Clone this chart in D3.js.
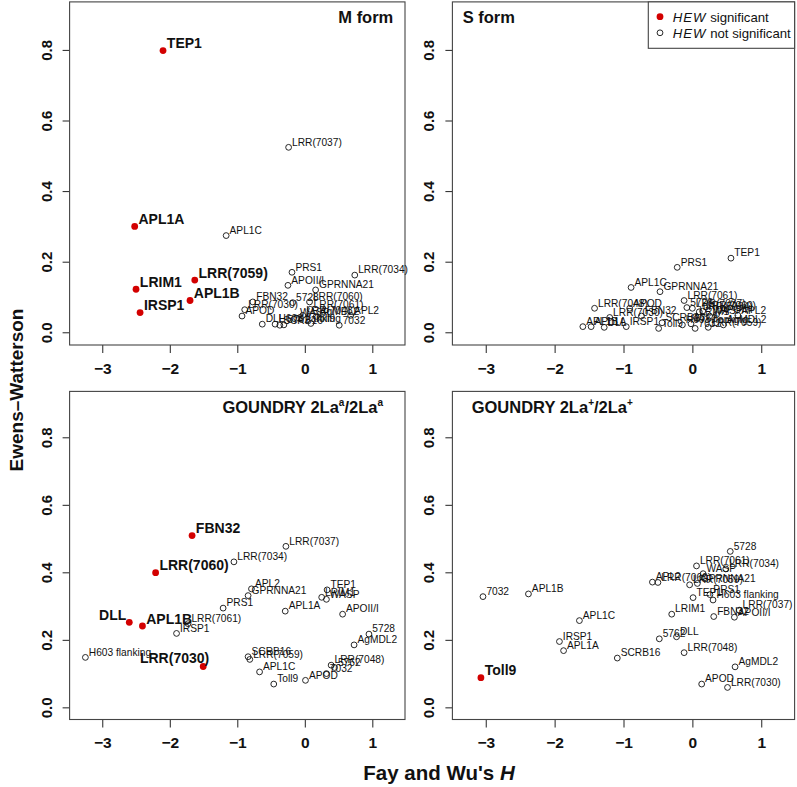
<!DOCTYPE html>
<html><head><meta charset="utf-8">
<script src="https://cdn.jsdelivr.net/npm/d3@7"></script>
<style>
body{margin:0;background:#fff}
text{font-family:"Liberation Sans",Arial,Helvetica,sans-serif}
</style>
</head><body>
<svg id="c" width="797" height="787"></svg>
<script>
// ---------------- data ----------------
const xTicks = [-3, -2, -1, 0, 1];
const yTicks = [0, 0.2, 0.4, 0.6, 0.8];
const xLimits = [-3.3, 1.3];
const yLimits = [0, 0.9];

// M form
const mGenes = ["TEP1","APL1A","LRR(7059)","LRIM1","APL1B","IRSP1","LRR(7037)","APL1C","PRS1","APOII/I","LRR(7034)","GPRNNA21","FBN32","5728","LRR(7060)","LRR(7030)","APOD","LRR(7061)","LRR(7048)","APL2","DLL","H603 flanking","SCRB16","5762","Toll9","7032","AgMDL2","WASP"];
const mH  = [-2.10,-2.52,-1.63,-2.50,-1.70,-2.44,-0.24,-1.165,-0.19,-0.25,0.74,0.16,-0.77,-0.18,0.07,-0.89,-0.93,0.08,-0.03,0.68,-0.63,-0.44,-0.37,-0.31,0.09,0.51,0.17,-0.12];
const mEW = [0.798,0.300,0.148,0.122,0.090,0.056,0.524,0.274,0.170,0.133,0.162,0.120,0.086,0.084,0.086,0.064,0.046,0.065,0.048,0.048,0.023,0.023,0.020,0.021,0.025,0.020,0.045,0.040];
const mSig = ["TEP1","APL1A","LRR(7059)","LRIM1","APL1B","IRSP1"];

// S form
const sGenes = ["TEP1","PRS1","APL1C","GPRNNA21","LRR(7061)","5728","LRR(7037)","LRR(7034)","APL2","WASP","LRR(7060)","LRIM1","APOII/I","APOD","LRR(7030)","FBN32","LRR(7048)","APL1B","APL1A","DLL","IRSP1","Toll9","SCRB16","H603 flanking","5762","7032","LRR(7059)","AgMDL2"];
const sH  = [0.56,-0.22,-0.89,-0.47,-0.12,-0.08,0.0,0.10,0.66,0.25,0.15,0.05,0.35,-0.91,-1.20,-0.74,-1.42,-1.59,-1.47,-1.28,-0.96,-0.49,-0.44,-0.145,-0.02,0.04,0.23,0.45];
const sEW = [0.210,0.184,0.127,0.115,0.090,0.070,0.068,0.058,0.048,0.046,0.060,0.045,0.050,0.068,0.042,0.046,0.068,0.016,0.016,0.014,0.016,0.011,0.027,0.021,0.024,0.011,0.014,0.021];
const sSig = [];

// GOUNDRY 2La^a/2La^a
const aGenes = ["FBN32","LRR(7060)","DLL","APL1B","LRR(7030)","LRR(7037)","LRR(7034)","APL2","GPRNNA21","PRS1","LRR(7061)","IRSP1","H603 flanking","TEP1","LRIM1","WASP","APL1A","APOII/I","5728","AgMDL2","SCRB16","LRR(7059)","APL1C","Toll9","APOD","LRR(7048)","5762","7032"];
const aH  = [-1.67,-2.21,-2.60,-2.405,-1.505,-0.28,-1.05,-0.79,-0.84,-1.21,-1.73,-1.90,-3.25,0.33,0.25,0.32,-0.29,0.56,0.95,0.73,-0.84,-0.815,-0.67,-0.46,0.01,0.39,0.44,0.32];
const aEW = [0.509,0.399,0.252,0.241,0.121,0.477,0.431,0.351,0.331,0.294,0.248,0.219,0.148,0.348,0.326,0.320,0.285,0.276,0.217,0.185,0.150,0.142,0.105,0.069,0.080,0.125,0.118,0.100];
const aSig = ["FBN32","LRR(7060)","DLL","APL1B","LRR(7030)"];

// GOUNDRY 2La+/2La+
const pGenes = ["Toll9","7032","APL1B","APL1C","IRSP1","APL1A","SCRB16","5762","DLL","LRIM1","LRR(7048)","AgMDL2","APOD","LRR(7030)","5728","LRR(7061)","LRR(7034)","WASP","APL2","LRR(7060)","GPRNNA21","LRR(7059)","PRS1","TEP1","H603 flanking","LRR(7037)","APOII/I","FBN32"];
const pH  = [-3.07,-3.04,-2.38,-1.64,-1.93,-1.87,-1.09,-0.48,-0.23,-0.30,-0.12,0.62,0.135,0.51,0.55,0.06,0.485,0.156,-0.58,-0.50,0.072,-0.04,0.255,0.01,0.30,0.68,0.61,0.31];
const pEW = [0.088,0.328,0.336,0.257,0.195,0.168,0.146,0.203,0.209,0.276,0.162,0.120,0.069,0.059,0.462,0.419,0.410,0.396,0.371,0.370,0.367,0.363,0.334,0.325,0.318,0.288,0.267,0.269];
const pSig = ["Toll9"];

const legendLabels = ["significant", "not significant"];

// ---------------- layout ----------------
const svg = d3.select("#c");
const FONT = '"Liberation Sans",Arial,Helvetica,sans-serif';
const RED = "#d30000";
function padded(d){ const r = d[1]-d[0]; return [d[0]-0.04*r, d[1]+0.04*r]; }

// labels that the original places to the left of their point (style only)
const leftPlaced = {
  2: {"DLL": {dx: -3, dy: -2}, "LRR(7030)": {dx: 6, dy: -4}}
};

const panels = [
  {genes:mGenes, H:mH, EW:mEW, sig:mSig, l:69.6, r:405, t:1.9, b:345,
   title:[["M form"]], tAnchor:"end", tx:393.3, ty:22.8},
  {genes:sGenes, H:sH, EW:sEW, sig:sSig, l:452.4, r:794.6, t:1.9, b:345,
   title:[["S form"]], tAnchor:"start", tx:462.7, ty:22.8},
  {genes:aGenes, H:aH, EW:aEW, sig:aSig, l:69.6, r:405, t:391.4, b:719.5,
   title:[["GOUNDRY 2La"],["a",1],["/2La"],["a",1]], tAnchor:"end", tx:383, ty:412.8},
  {genes:pGenes, H:pH, EW:pEW, sig:pSig, l:452.4, r:794.6, t:391.4, b:719.5,
   title:[["GOUNDRY 2La"],["+",1],["/2La"],["+",1]], tAnchor:"start", tx:471.7, ty:413.2}
];

panels.forEach((p, pi) => {
  const x = d3.scaleLinear().domain(padded(xLimits)).range([p.l, p.r]);
  const y = d3.scaleLinear().domain(padded(yLimits)).range([p.b, p.t]);
  const g = svg.append("g");
  const lp = leftPlaced[pi] || {};

  // x axis
  const xa = g.append("g").attr("transform", `translate(0,${p.b})`)
    .call(d3.axisBottom(x).tickValues(xTicks).tickSize(8).tickPadding(0).tickFormat(d3.format("d")));
  xa.select(".domain").remove();
  xa.selectAll(".tick line").attr("stroke", "#222");
  xa.selectAll(".tick text").attr("y", 28.6).attr("dy", null)
    .attr("font-family", FONT).attr("font-size", 15.5).attr("font-weight", "bold").attr("fill", "#111");

  // y axis
  const ya = g.append("g").attr("transform", `translate(${p.l},0)`)
    .call(d3.axisLeft(y).tickValues(yTicks).tickSize(7).tickFormat(d3.format(".1f")));
  ya.select(".domain").remove();
  ya.selectAll(".tick line").attr("stroke", "#222");
  ya.selectAll(".tick text").attr("x", null).attr("dy", null)
    .attr("transform", "translate(-18,0) rotate(-90)").attr("text-anchor", "middle")
    .attr("font-family", FONT).attr("font-size", 15).attr("font-weight", "bold").attr("fill", "#111");

  // box
  g.append("rect").attr("x", p.l).attr("y", p.t).attr("width", p.r - p.l).attr("height", p.b - p.t)
    .attr("fill", "none").attr("stroke", "#444").attr("stroke-width", 1.1);

  const data = p.genes.map((n, i) => ({name:n, h:p.H[i], ew:p.EW[i], sig:p.sig.includes(n)}));

  // points
  g.selectAll("circle.pt").data(data).join("circle").attr("class","pt")
    .attr("cx", d => x(d.h)).attr("cy", d => y(d.ew))
    .attr("r", d => d.sig ? 3.4 : 2.9)
    .attr("fill", d => d.sig ? RED : "none")
    .attr("stroke", d => d.sig ? "none" : "#111").attr("stroke-width", 0.9);

  // labels
  g.selectAll("text.lab").data(data).join("text").attr("class","lab")
    .attr("x", d => lp[d.name] ? x(d.h) + lp[d.name].dx : x(d.h) + (d.sig ? 3.8 : 3.4))
    .attr("y", d => lp[d.name] ? y(d.ew) + lp[d.name].dy : y(d.ew) - (d.sig ? 2.4 : 1.7))
    .attr("text-anchor", d => lp[d.name] ? "end" : "start")
    .attr("font-family", FONT)
    .attr("font-size", d => d.sig ? 14 : 10.2)
    .attr("font-weight", d => d.sig ? "bold" : "normal")
    .attr("fill", "#111")
    .text(d => d.name);

  // title
  const tt = g.append("text").attr("x", p.tx).attr("y", p.ty).attr("text-anchor", p.tAnchor)
    .attr("font-family", FONT).attr("font-size", 16.5).attr("font-weight", "bold").attr("fill", "#111");
  p.title.forEach(([s, sup]) => {
    const ts = tt.append("tspan").text(s);
    if (sup) ts.attr("font-size", 10).attr("dy", -7);
    else if (tt.selectAll("tspan").size() > 1) ts.attr("dy", 7);
  });
});

// legend (in S form panel)
const lg = svg.append("g");
lg.append("rect").attr("x", 648.3).attr("y", 1.9).attr("width", 794.6 - 648.3).attr("height", 48.3 - 1.9)
  .attr("fill", "#fff").attr("stroke", "#444").attr("stroke-width", 1.1);
lg.append("circle").attr("cx", 660).attr("cy", 16.7).attr("r", 3.4).attr("fill", RED);
lg.append("circle").attr("cx", 660).attr("cy", 32.8).attr("r", 2.9).attr("fill", "none").attr("stroke", "#111").attr("stroke-width", 0.9);
legendLabels.forEach((s, i) => {
  const t = lg.append("text").attr("x", 672.7).attr("y", 21.5 + i * 16)
    .attr("font-family", FONT).attr("font-size", 13.2).attr("fill", "#111");
  t.append("tspan").attr("font-style", "italic").attr("letter-spacing", 1).text("HEW");
  t.append("tspan").text(" " + s);
});

// axis titles
svg.append("text").attr("transform", "translate(22.5,390) rotate(-90)").attr("text-anchor", "middle")
  .attr("font-family", FONT).attr("font-size", 19).attr("font-weight", "bold").attr("fill", "#111")
  .text("Ewens\u2013Watterson");
const xt = svg.append("text").attr("x", 439).attr("y", 780).attr("text-anchor", "middle")
  .attr("font-family", FONT).attr("font-size", 20.5).attr("font-weight", "bold").attr("fill", "#111");
xt.append("tspan").text("Fay and Wu's ");
xt.append("tspan").attr("font-style", "italic").text("H");
</script>
</body></html>
